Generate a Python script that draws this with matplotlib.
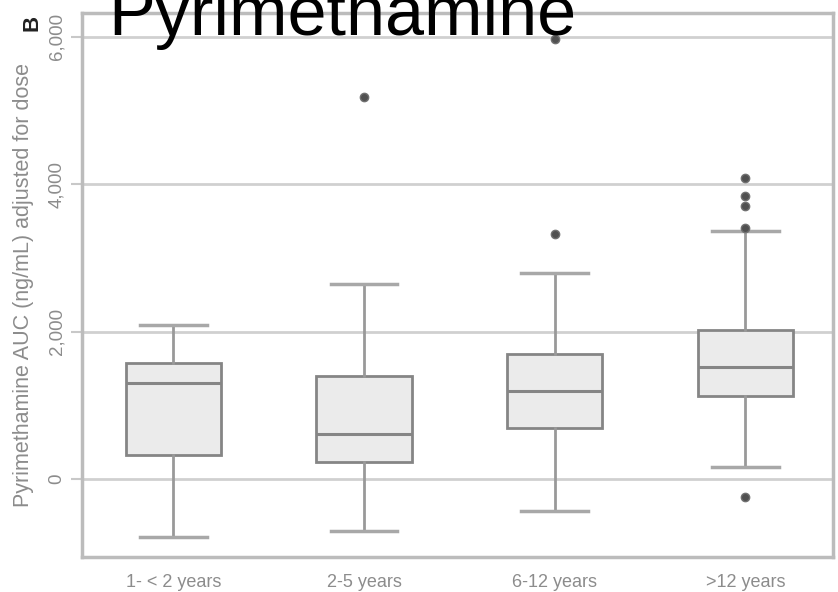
import matplotlib
matplotlib.use("Agg")
import matplotlib.pyplot as plt

plt.rcParams['font.family'] = ['Liberation Sans', 'DejaVu Sans']

# age groups and box statistics (ng/mL adjusted for dose)
groups = ["1- < 2 years", "2-5 years", "6-12 years", ">12 years"]
whislo = [-787, -706, -434, 163]
q1 = [326, 231, 692, 1126]
med = [1303, 611, 1194, 1520]
q3 = [1574, 1398, 1696, 2022]
whishi = [2090, 2646, 2795, 3365]
fliers = [[], [5183], [3324, 5970], [4084, 3840, 3704, 3406, -244]]

yticks = [0, 2000, 4000, 6000]
ytick_labels = ["0", "2,000", "4,000", "6,000"]

stats = []
for i in range(len(groups)):
    stats.append(dict(label=groups[i], whislo=whislo[i], q1=q1[i], med=med[i],
                      q3=q3[i], whishi=whishi[i], fliers=fliers[i]))

fig = plt.figure(figsize=(8.38, 5.92), dpi=100)
ax = fig.add_axes([82/838, 35/592, 751/838, 544/592])

for y in yticks:
    ax.axhline(y, color="#d0d0d0", lw=2, zorder=0)

ax.bxp(stats, positions=range(1, 5), widths=0.5, patch_artist=True,
       boxprops=dict(facecolor="#ebebeb", edgecolor="#858585", lw=2),
       medianprops=dict(color="#858585", lw=2.2),
       whiskerprops=dict(color="#999999", lw=2),
       capprops=dict(color="#a8a8a8", lw=2.5),
       capwidths=0.35,
       flierprops=dict(marker="o", markersize=6, markerfacecolor="#505050",
                       markeredgecolor="#707070"))

ax.set_xlim(0.52, 4.46)
ax.set_ylim(-1058, 6323)

ax.set_yticks(yticks)
ax.set_yticklabels(ytick_labels, rotation=90, va="center", fontsize=13.5, color="#8c8c8c")
ax.tick_params(axis="y", length=8, width=1.5, color="#c8c8c8", pad=4)
ax.tick_params(axis="x", length=0, pad=12, labelsize=13, labelcolor="#8c8c8c")

ax.set_ylabel("Pyrimethamine AUC (ng/mL) adjusted for dose", fontsize=15.5, color="#8c8c8c")
ax.yaxis.set_label_coords(-0.064, 0.5)

for s in ax.spines.values():
    s.set_color("#bcbcbc")
    s.set_linewidth(2.5)

fig.text(108/838, 1 - 35/592, "Pyrimethamine", fontsize=50.5, color="black",
         ha="left", va="baseline")
fig.text(32/838, 1 - 23/592, "B", fontsize=16, fontweight="bold", rotation=90,
         ha="center", va="center", color="#222222")

fig.savefig("out.png", dpi=100)
